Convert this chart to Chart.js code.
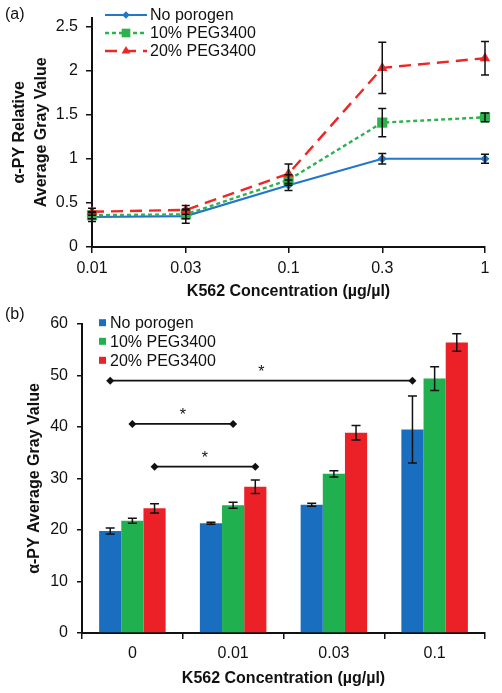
<!DOCTYPE html>
<html><head><meta charset="utf-8">
<script src="https://cdn.jsdelivr.net/npm/chart.js@4/dist/chart.umd.min.js"></script>
<style>
html,body{margin:0;padding:0;background:#fff;}
#ca{position:absolute;left:0;top:0;}
#cb{position:absolute;left:0;top:300px;}
</style></head><body>
<canvas id="ca" width="502" height="300"></canvas>
<canvas id="cb" width="502" height="393"></canvas>
<script>
// ---------- Data: panel (a) ----------
const seriesNames = ['No porogen', '10% PEG3400', '20% PEG3400'];
const conc = [0.01, 0.03, 0.1, 0.3, 1];
const concLabels = ['0.01', '0.03', '0.1', '0.3', '1'];
const noPorogen = [0.34, 0.35, 0.70, 1.00, 1.00];
const noPorogenErr = [0.05, 0.08, 0.06, 0.06, 0.05];
const peg10 = [0.36, 0.37, 0.76, 1.41, 1.47];
const peg10Err = [0.04, 0.05, 0.06, 0.16, 0.05];
const peg20 = [0.40, 0.42, 0.83, 2.03, 2.14];
const peg20Err = [0.04, 0.05, 0.11, 0.29, 0.19];
const yTicksA = [0, 0.5, 1, 1.5, 2, 2.5];
const yLabelsA = ['0', '0.5', '1', '1.5', '2', '2.5'];

// ---------- Data: panel (b) ----------
const barCats = ['0', '0.01', '0.03', '0.1'];
const barNo = [19.8, 21.3, 24.9, 39.5];
const barNoErr = [0.6, 0.2, 0.3, 6.5];
const bar10 = [21.8, 24.8, 30.9, 49.4];
const bar10Err = [0.5, 0.6, 0.6, 2.3];
const bar20 = [24.2, 28.4, 38.9, 56.4];
const bar20Err = [0.9, 1.3, 1.4, 1.7];
const yTicksB = [0, 10, 20, 30, 40, 50, 60];
// significance brackets: dataset index, start category, end category, level
const sigDataset = [0, 1, 2];
const sigStart = [0, 0, 0];
const sigEnd = [3, 1, 1];
const sigLevel = [49.0, 40.6, 32.3];
const sigLabel = ['*', '*', '*'];

const xTitle = 'K562 Concentration (µg/µl)';

// ---------- styles ----------
const FONT = '"Liberation Sans", Arial, sans-serif';
const INK = '#111111';
const LINE_COLORS = ['#2376c8', '#2db24e', '#ee2626'];
const BAR_COLORS = ['#1a6ec0', '#21b04f', '#ec2027'];
Chart.defaults.font.family = FONT;
Chart.defaults.color = INK;

function drawMarker(ctx, style, x, y, r, color) {
  ctx.save();
  ctx.fillStyle = color; ctx.strokeStyle = color; ctx.setLineDash([]);
  ctx.beginPath();
  if (style === 'rectRot') {
    ctx.moveTo(x, y - r); ctx.lineTo(x + r, y); ctx.lineTo(x, y + r); ctx.lineTo(x - r, y);
  } else if (style === 'rect') {
    const s = r * Math.SQRT1_2;
    ctx.rect(x - s, y - s, 2 * s, 2 * s);
  } else if (style === 'triangle') {
    ctx.moveTo(x, y - r);
    ctx.lineTo(x + r * 0.866, y + r * 0.5);
    ctx.lineTo(x - r * 0.866, y + r * 0.5);
  }
  ctx.closePath(); ctx.fill();
  ctx.restore();
}

const errorBars = {
  id: 'errorBars',
  afterDatasetsDraw(chart, args, opts) {
    const ctx = chart.ctx, ys = chart.scales.y;
    ctx.save();
    ctx.strokeStyle = INK; ctx.lineWidth = 1.5; ctx.setLineDash([]);
    chart.data.datasets.forEach((ds, i) => {
      if (!ds.errors) return;
      const meta = chart.getDatasetMeta(i);
      meta.data.forEach((el, j) => {
        const raw = ds.data[j];
        const v = (typeof raw === 'object') ? raw.y : raw;
        const e = ds.errors[j];
        const x = el.x;
        const y1 = ys.getPixelForValue(v + e), y2 = ys.getPixelForValue(v - e);
        const w = opts.cap;
        ctx.beginPath();
        ctx.moveTo(x, y1); ctx.lineTo(x, y2);
        ctx.moveTo(x - w, y1); ctx.lineTo(x + w, y1);
        ctx.moveTo(x - w, y2); ctx.lineTo(x + w, y2);
        ctx.stroke();
      });
    });
    ctx.restore();
  }
};

const decorA = {
  id: 'decorA',
  afterDraw(chart) {
    const ctx = chart.ctx;
    ctx.save();
    ctx.fillStyle = INK;
    ctx.font = '16px ' + FONT;
    ctx.textBaseline = 'middle'; ctx.textAlign = 'left';
    ctx.fillText('(a)', 5, 15);
    const rows = [15, 33, 51];
    chart.data.datasets.forEach((ds, i) => {
      const y = rows[i];
      ctx.save();
      ctx.strokeStyle = ds.borderColor; ctx.lineWidth = ds.borderWidth;
      ctx.setLineDash(ds.borderDash || []);
      ctx.beginPath(); ctx.moveTo(105, y); ctx.lineTo(147, y); ctx.stroke();
      ctx.restore();
      drawMarker(ctx, ds.pointStyle, 126, y, ds.pointRadius * 0.85, ds.borderColor);
      ctx.fillStyle = INK;
      ctx.font = '16px ' + FONT;
      ctx.fillText(ds.label, 150, y + 1);
    });
    ctx.restore();
  }
};

const decorB = {
  id: 'decorB',
  afterDatasetsDraw(chart) {
    const ctx = chart.ctx, ys = chart.scales.y;
    ctx.save();
    ctx.strokeStyle = INK; ctx.fillStyle = INK; ctx.lineWidth = 1.6;
    sigDataset.forEach((d, k) => {
      const meta = chart.getDatasetMeta(d);
      const x1 = meta.data[sigStart[k]].x, x2 = meta.data[sigEnd[k]].x;
      const y = ys.getPixelForValue(sigLevel[k]);
      ctx.beginPath(); ctx.moveTo(x1, y); ctx.lineTo(x2, y); ctx.stroke();
      [x1, x2].forEach(x => drawMarker(ctx, 'rectRot', x, y, 4, INK));
      ctx.font = '16px ' + FONT;
      ctx.textAlign = 'center'; ctx.textBaseline = 'alphabetic';
      ctx.fillText(sigLabel[k], (x1 + x2) / 2, y - 4);
    });
    ctx.restore();
  },
  afterDraw(chart) {
    const ctx = chart.ctx;
    ctx.save();
    ctx.fillStyle = INK;
    ctx.font = '16px ' + FONT;
    ctx.textBaseline = 'middle'; ctx.textAlign = 'left';
    ctx.fillText('(b)', 5, 15);
    const rows = [22.7, 41.3, 60.3];
    chart.data.datasets.forEach((ds, i) => {
      ctx.fillStyle = ds.backgroundColor;
      ctx.fillRect(99, rows[i] - 3.5, 7, 7);
      ctx.fillStyle = INK;
      ctx.font = '16px ' + FONT;
      ctx.fillText(ds.label, 110, rows[i] + 1);
    });
    ctx.restore();
  }
};

const axisCommon = {
  grid: { drawOnChartArea: false, drawTicks: true, tickLength: 6, color: INK, lineWidth: 1.5 },
  border: { display: true, color: INK, width: 2 }
};

// ---------- Chart (a) ----------
const lineSeries = [noPorogen, peg10, peg20];
const lineErrs = [noPorogenErr, peg10Err, peg20Err];
const styles = [
  { pointStyle: 'rectRot', pointRadius: 4.5, borderDash: [] , borderWidth: 2.2 },
  { pointStyle: 'rect', pointRadius: 7.2, borderDash: [4, 3], borderWidth: 2.4 },
  { pointStyle: 'triangle', pointRadius: 6, borderDash: [12, 7], borderWidth: 2.4 }
];
const orderA = [2, 1, 0];
new Chart(document.getElementById('ca'), {
  type: 'line',
  data: {
    datasets: [0, 1, 2].map(i => ({
      label: seriesNames[i],
      data: conc.map((c, j) => ({ x: c, y: lineSeries[i][j] })),
      errors: lineErrs[i],
      borderColor: LINE_COLORS[i],
      backgroundColor: LINE_COLORS[i],
      pointBackgroundColor: LINE_COLORS[i],
      pointBorderColor: LINE_COLORS[i],
      pointBorderWidth: 0,
      borderWidth: styles[i].borderWidth,
      borderDash: styles[i].borderDash,
      pointStyle: styles[i].pointStyle,
      pointRadius: styles[i].pointRadius,
      order: orderA[i],
      clip: false,
      tension: 0
    }))
  },
  options: {
    responsive: false, animation: false, events: [],
    layout: { padding: { top: 13, right: 17, left: 0, bottom: 0 } },
    plugins: { legend: { display: false }, tooltip: { enabled: false }, errorBars: { cap: 4 } },
    scales: {
      x: {
        type: 'logarithmic', min: 0.01, max: 1,
        afterBuildTicks: s => { s.ticks = conc.map(v => ({ value: v })); },
        afterFit: s => { s.height = 53; },
        ticks: { callback: (v, idx) => concLabels[idx], font: { size: 16 }, color: INK, padding: 6, maxRotation: 0, autoSkip: false },
        ...axisCommon,
        title: { display: true, text: xTitle, font: { size: 16, weight: 'bold', lineHeight: 1.0 }, color: INK, padding: { top: 0, bottom: 0 } }
      },
      y: {
        min: 0, max: 2.6,
        afterBuildTicks: s => { s.ticks = yTicksA.map(v => ({ value: v })); },
        afterFit: s => { s.width = 92; },
        ticks: { callback: (v, idx) => yLabelsA[idx], font: { size: 16 }, color: INK, padding: 8 },
        ...axisCommon,
        title: { display: true, text: ['α-PY Relative', 'Average Gray Value'], font: { size: 16, weight: 'bold', lineHeight: 1.375 }, color: INK, padding: { top: 9, bottom: 0 } }
      }
    }
  },
  plugins: [errorBars, decorA]
});

// ---------- Chart (b) ----------
const barSeries = [barNo, bar10, bar20];
const barErrs = [barNoErr, bar10Err, bar20Err];
new Chart(document.getElementById('cb'), {
  type: 'bar',
  data: {
    labels: barCats,
    datasets: [0, 1, 2].map(i => ({
      label: seriesNames[i],
      data: barSeries[i],
      errors: barErrs[i],
      backgroundColor: BAR_COLORS[i],
      borderWidth: 0,
      categoryPercentage: 0.66,
      barPercentage: 1.0
    }))
  },
  options: {
    responsive: false, animation: false, events: [],
    layout: { padding: { top: 24, right: 17, left: 0, bottom: 0 } },
    plugins: { legend: { display: false }, tooltip: { enabled: false }, errorBars: { cap: 4.5 } },
    scales: {
      x: {
        afterFit: s => { s.height = 60; },
        ticks: { font: { size: 16 }, color: INK, padding: 5, maxRotation: 0 },
        ...axisCommon,
        grid: { ...axisCommon.grid, offset: true },
        title: { display: true, text: xTitle, font: { size: 16, weight: 'bold' }, color: INK, padding: { top: 0, bottom: 5 } }
      },
      y: {
        min: 0, max: 60,
        afterBuildTicks: s => { s.ticks = yTicksB.map(v => ({ value: v })); },
        afterFit: s => { s.width = 82; },
        ticks: { callback: v => String(v), font: { size: 16 }, color: INK, padding: 9 },
        ...axisCommon,
        grid: { ...axisCommon.grid, tickLength: 5 },
        title: { display: true, text: 'α-PY Average Gray Value', font: { size: 16, weight: 'bold' }, color: INK, padding: { top: 25, bottom: 0 } }
      }
    }
  },
  plugins: [errorBars, decorB]
});
</script>
</body></html>
